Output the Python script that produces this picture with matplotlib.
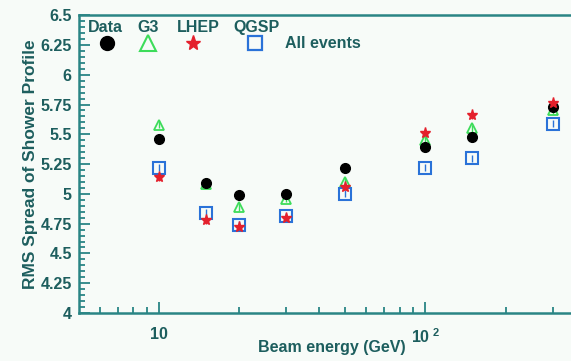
import numpy as np
import matplotlib.pyplot as plt
from matplotlib.ticker import FixedLocator, FuncFormatter, MultipleLocator

plt.rcParams['font.family'] = 'Liberation Sans'
plt.rcParams['font.weight'] = 'bold'
plt.rcParams['mathtext.fontset'] = 'custom'
plt.rcParams['mathtext.bf'] = 'Liberation Sans:bold'
plt.rcParams['mathtext.rm'] = 'Liberation Sans:bold'

energy = [10, 15, 20, 30, 50, 100, 150, 300]
data_rms = [5.46, 5.09, 4.99, 5.00, 5.22, 5.39, 5.48, 5.73]
g3_rms = [5.58, 5.08, 4.89, 4.96, 5.10, 5.45, 5.55, 5.70]
lhep_rms = [5.14, 4.78, 4.72, 4.80, 5.06, 5.51, 5.66, 5.76]
qgsp_rms = [5.22, 4.84, 4.74, 4.81, 5.00, 5.22, 5.30, 5.59]
err = [0.03, 0.03, 0.03, 0.03, 0.03, 0.03, 0.03, 0.03]

txt = '#1d5e5e'
axc = '#2a8585'
bg = '#f7fbf8'

fig = plt.figure(figsize=(5.71, 3.61), dpi=100, facecolor=bg)
ax = fig.add_axes([0.138, 0.133, 0.862, 0.825], facecolor=bg)

ax.errorbar(energy, g3_rms, yerr=err, fmt='^', ms=7, mfc='none', mec='#3ddc5a',
            ecolor='#3ddc5a', mew=1.3, elinewidth=1, capsize=0)
ax.errorbar(energy, data_rms, yerr=err, fmt='o', ms=7, color='black',
            elinewidth=1, capsize=0)
ax.errorbar(energy, qgsp_rms, yerr=err, fmt='s', ms=8, mfc='none', mec='#2a72d8',
            ecolor='#2a72d8', mew=1.5, elinewidth=1, capsize=0)
ax.errorbar(energy, lhep_rms, yerr=err, fmt='*', ms=8, color='#e4202c',
            elinewidth=1, capsize=0)

ax.set_xscale('log')
ax.set_xlim(5, 352)
ax.set_ylim(4, 6.5)

ax.xaxis.set_major_locator(FixedLocator([10, 100]))
ax.xaxis.set_minor_locator(FixedLocator([6, 7, 8, 9, 20, 30, 40, 50, 60, 70, 80, 90, 200, 300]))
ax.xaxis.set_major_formatter(FuncFormatter(lambda v, p: '10' if v < 50 else r'$\mathbf{10^{\ 2}}$'))
ax.xaxis.set_minor_formatter(FuncFormatter(lambda v, p: ''))
ax.yaxis.set_major_locator(MultipleLocator(0.25))
ax.yaxis.set_minor_locator(MultipleLocator(0.05))
ax.yaxis.set_major_formatter(FuncFormatter(lambda v, p: ('%.2f' % v).rstrip('0').rstrip('.')))

ax.tick_params(which='both', direction='in', colors=axc, labelcolor=txt, labelsize=11.5,
               top=False, right=False, width=1.3)
ax.tick_params(which='major', length=8, pad=5)
ax.tick_params(which='minor', length=4)
ax.tick_params(axis='x', pad=10)
for lab in ax.get_xticklabels() + ax.get_yticklabels():
    lab.set_fontweight('bold')

for s in ['left', 'bottom', 'top']:
    ax.spines[s].set_color(axc)
    ax.spines[s].set_linewidth(1.8)
ax.spines['right'].set_visible(False)

ax.set_xlabel('Beam energy (GeV)', color=txt, fontsize=11.5, fontweight='bold')
ax.xaxis.set_label_coords(0.514, -0.09)
ax.set_ylabel('RMS Spread of Shower Profile', color=txt, fontsize=12.5,
              fontweight='bold')
ax.yaxis.set_label_coords(-0.083, 0.5)

# legend block: names on top, symbols below
tr = ax.transAxes
for x, name in zip([0.018, 0.120, 0.200, 0.314], ['Data', 'G3', 'LHEP', 'QGSP']):
    ax.text(x, 0.985, name, transform=tr, color=txt, fontsize=11.5, fontweight='bold', va='top')
ax.plot([0.058], [0.905], 'o', ms=10, color='black', transform=tr, clip_on=False)
ax.plot([0.140], [0.905], '^', ms=11, mfc='none', mec='#3ddc5a', mew=1.5, transform=tr)
ax.plot([0.232], [0.905], '*', ms=11, color='#e4202c', transform=tr)
ax.plot([0.358], [0.905], 's', ms=10, mfc='none', mec='#2a72d8', mew=1.6, transform=tr)
ax.text(0.418, 0.905, 'All events', transform=tr, color=txt, fontsize=11.5,
        fontweight='bold', va='center')

fig.savefig('out.png', dpi=100, facecolor=bg)
